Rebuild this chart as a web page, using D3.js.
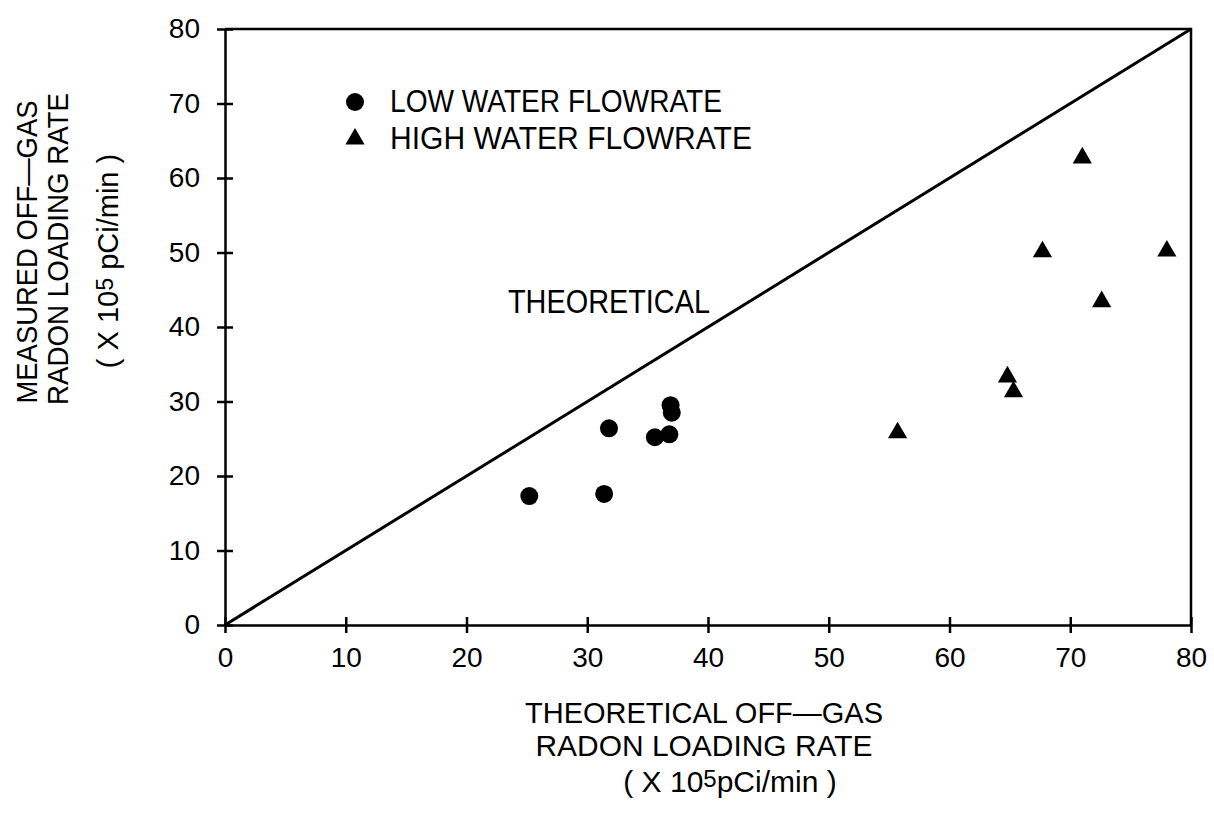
<!DOCTYPE html>
<html lang="en">
<head>
<meta charset="UTF-8">
<title>Radon loading rate</title>
<script src="https://cdn.jsdelivr.net/npm/d3@7"></script>
<style>
    body { margin: 0; background: #fff; }
    svg text { font-family: "Liberation Sans", Arial, sans-serif; fill: #000; }
    .axis path, .axis line { stroke: #000; stroke-width: 2.5; }
</style>
</head>
<body>
<div id="root"></div>
<script>
    // data
    let lowX = [25.2, 31.4, 31.8, 35.6, 36.8, 36.9, 37.0]
    let lowY = [17.3, 17.6, 26.4, 25.2, 25.6, 29.5, 28.5]
    let highX = [71.0, 67.7, 78.0, 72.6, 64.8, 65.3, 55.7]
    let highY = [62.7, 50.1, 50.2, 43.4, 33.3, 31.3, 25.8]
    let theoryLine = [0, 80]
    let ticks = [0, 10, 20, 30, 40, 50, 60, 70, 80]

    let width = 1214, height = 813
    let plotLeft = 225, plotRight = 1191, plotTop = 29, plotBottom = 625

    let svg = d3.select("#root").append("svg").attr("width", width).attr("height", height)

    let x = d3.scaleLinear().domain([0, 80]).range([plotLeft, plotRight])
    let y = d3.scaleLinear().domain([0, 80]).range([plotBottom, plotTop])

    // frame (top and right)
    svg.append("path")
        .attr("d", "M" + x(0) + "," + y(80) + "H" + x(80) + "V" + y(0))
        .attr("fill", "none").attr("stroke", "#000").attr("stroke-width", 2.5)

    let xAxis = d3.axisBottom(x).tickValues(ticks).tickSize(8).tickPadding(14).tickSizeOuter(0)
    let gx = svg.append("g").attr("class", "axis").attr("transform", "translate(0," + plotBottom + ")").call(xAxis)
    gx.selectAll(".tick line").attr("y1", -8)
    gx.selectAll(".tick text").attr("font-size", 28)

    let yAxis = d3.axisLeft(y).tickValues(ticks).tickSize(8).tickPadding(17).tickSizeOuter(0)
    let gy = svg.append("g").attr("class", "axis").attr("transform", "translate(" + plotLeft + ",0)").call(yAxis)
    gy.selectAll(".tick line").attr("x1", 8)
    gy.selectAll(".tick text").attr("font-size", 28)
    svg.selectAll(".axis text").style("font-family", "'Liberation Sans', Arial, sans-serif").attr("fill", "#000")

    // theoretical 1:1 line
    let line = d3.line().x(d => x(d)).y(d => y(d))
    svg.append("path").datum(theoryLine).attr("d", line)
        .attr("fill", "none").attr("stroke", "#000").attr("stroke-width", 3)

    // low water flowrate points
    svg.append("g").selectAll("circle").data(d3.zip(lowX, lowY)).join("circle")
        .attr("cx", d => x(d[0])).attr("cy", d => y(d[1])).attr("r", 9).attr("fill", "#000")

    // high water flowrate points
    let tri = d3.symbol().type(d3.symbolTriangle).size(160)
    svg.append("g").selectAll("path").data(d3.zip(highX, highY)).join("path")
        .attr("d", tri).attr("transform", d => "translate(" + x(d[0]) + "," + y(d[1]) + ")")
        .attr("fill", "#000")

    // legend
    svg.append("circle").attr("cx", 355).attr("cy", 102).attr("r", 9).attr("fill", "#000")
    svg.append("text").attr("x", 390).attr("y", 112).attr("font-size", 31)
        .attr("textLength", 332).attr("lengthAdjust", "spacingAndGlyphs").text("LOW WATER FLOWRATE")
    svg.append("path").attr("d", tri).attr("transform", "translate(355,139)").attr("fill", "#000")
    svg.append("text").attr("x", 390).attr("y", 149).attr("font-size", 31)
        .attr("textLength", 362).attr("lengthAdjust", "spacingAndGlyphs").text("HIGH WATER FLOWRATE")

    svg.append("text").attr("x", 508).attr("y", 313).attr("font-size", 33)
        .attr("textLength", 202).attr("lengthAdjust", "spacingAndGlyphs").text("THEORETICAL")

    // "( X 10^5 pCi/min )" with a raised 5
    function unitLine(g, size, gap) {
        g.append("tspan").text("( X 10")
        g.append("tspan").attr("dy", -5).attr("font-size", size * 0.8).text("5")
        g.append("tspan").attr("dy", 5).text(gap + "pCi/min )")
    }

    // x title
    svg.append("text").attr("x", 704).attr("y", 723).attr("font-size", 30).attr("text-anchor", "middle")
        .attr("textLength", 358).attr("lengthAdjust", "spacingAndGlyphs").text("THEORETICAL OFF—GAS")
    svg.append("text").attr("x", 704).attr("y", 756).attr("font-size", 30).attr("text-anchor", "middle")
        .attr("textLength", 337).attr("lengthAdjust", "spacingAndGlyphs").text("RADON LOADING RATE")
    let xt3 = svg.append("text").attr("x", 730).attr("y", 792).attr("font-size", 30).attr("text-anchor", "middle")
    unitLine(xt3, 30, "")

    // y title
    let yt = svg.append("g").attr("transform", "rotate(-90)")
    yt.append("text").attr("x", -252).attr("y", 37).attr("font-size", 29).attr("text-anchor", "middle")
        .attr("textLength", 303).attr("lengthAdjust", "spacingAndGlyphs").text("MEASURED OFF—GAS")
    yt.append("text").attr("x", -249).attr("y", 68).attr("font-size", 29).attr("text-anchor", "middle")
        .attr("textLength", 312).attr("lengthAdjust", "spacingAndGlyphs").text("RADON LOADING RATE")
    let yt3 = yt.append("text").attr("x", -261).attr("y", 118).attr("font-size", 29).attr("text-anchor", "middle")
    unitLine(yt3, 29, " ")
</script>
</body>
</html>
